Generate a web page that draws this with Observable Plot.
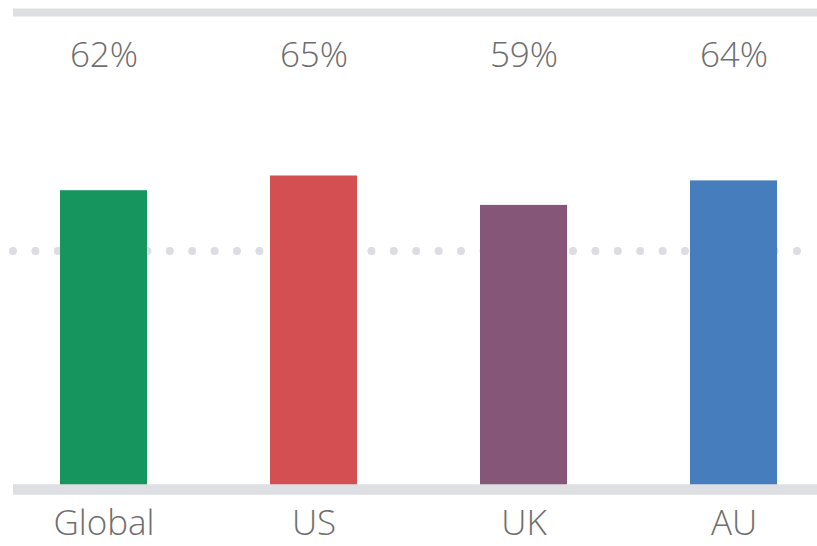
<!DOCTYPE html>
<html>
<head>
<meta charset="utf-8">
<script src="https://cdn.jsdelivr.net/npm/d3@7"></script>
<script src="https://cdn.jsdelivr.net/npm/@observablehq/plot@0.6"></script>
<style>
  html, body { margin: 0; padding: 0; background: #fff; }
  #chart svg { display: block; }
</style>
</head>
<body>
<div id="chart"></div>
<script>
const categories = ["Global", "US", "UK", "AU"];
const values = [62, 65, 59, 64];
const colors = ["#17955f", "#d44f52", "#865679", "#457dbd"];
const referenceValue = 50;
const maxValue = 100;

const data = categories.map((c, i) => ({ category: c, value: values[i], color: colors[i] }));

const chart = Plot.plot({
  width: 817,
  height: 546,
  marginTop: 4,
  marginBottom: 52,
  marginLeft: 13,
  marginRight: 0,
  style: { fontFamily: "'Open Sans', sans-serif", background: "#fff" },
  x: { domain: categories, paddingInner: 0.586, paddingOuter: 0.207, align: 0.54, label: null },
  y: { domain: [0, maxValue], axis: null },
  marks: [
    Plot.ruleY([referenceValue], { stroke: "#dcdde2", strokeWidth: 8, strokeLinecap: "round", strokeDasharray: "0 22.4", dy: 1.5 }),
    Plot.barY(data, { x: "category", y: "value", fill: "color" }),
    Plot.ruleY([0], { stroke: "#dedfe3", strokeWidth: 10.5, dy: -5 }),
    Plot.ruleY([maxValue], { stroke: "#dedfe3", strokeWidth: 8, dy: 8 }),
    Plot.text(data, { x: "category", text: d => d.value + "%", frameAnchor: "top", lineAnchor: "top", dy: 38, fontSize: 35, fill: "#6e6e6e", fontWeight: 300 }),
    Plot.axisX({ tickSize: 0, tickPadding: 16, fontSize: 35, fill: "#6e6e6e", fontWeight: 300, label: null })
  ]
});
document.getElementById("chart").appendChild(chart);
</script>
</body>
</html>
